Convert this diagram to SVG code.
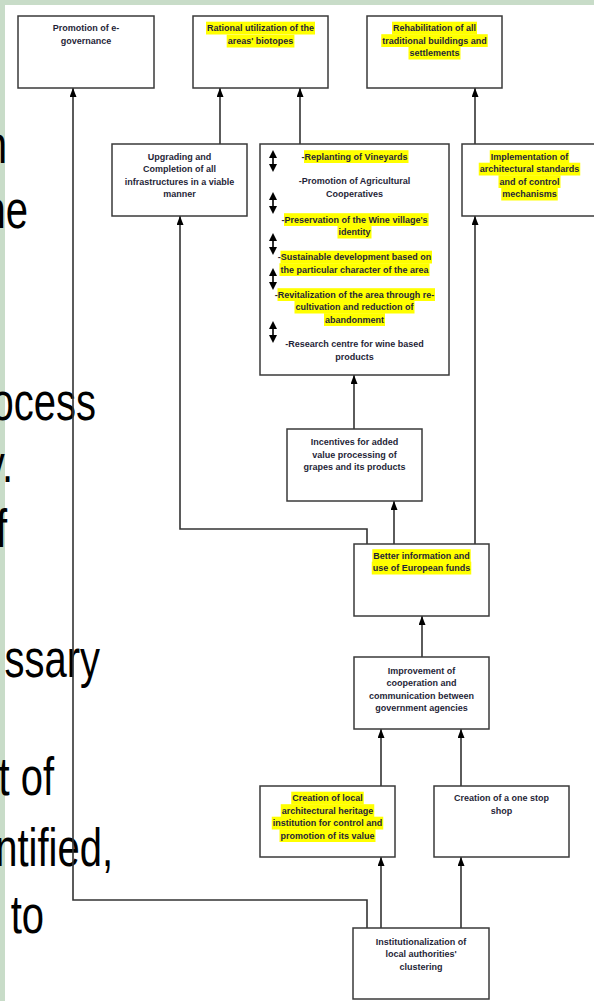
<svg xmlns="http://www.w3.org/2000/svg" xmlns:xlink="http://www.w3.org/1999/xlink" width="594" height="1001" viewBox="0 0 594 1001">
<style>
.box{fill:#fff;stroke:#3a3a3a;stroke-width:1.5}
.t{font-family:"Liberation Sans",Arial,sans-serif;font-weight:bold;font-size:9px;fill:#1f1f38;text-anchor:middle}
.hl{fill:#ffff00}
.bg{font-family:"Liberation Sans",Arial,sans-serif;font-size:40px;fill:#000;text-anchor:end}
.c{fill:none;stroke:#333;stroke-width:1.6;marker-end:url(#ah)}
</style>
<defs>
<marker id="ah" viewBox="0 0 9 7" refX="9" refY="3.5" markerWidth="9" markerHeight="7" markerUnits="userSpaceOnUse" orient="auto">
<path d="M0,0 L9,3.5 L0,7 z" fill="#000"/>
</marker>
<g id="dbl">
<path d="M0,5 V17" stroke="#000" stroke-width="1.6"/>
<path d="M-4,8 L0,0 L4,8 z M-4,14 L0,22 L4,14 z" fill="#000"/>
</g>
</defs>
<g id="background">
<rect x="0" y="0" width="594" height="1001" fill="#c8dcc8"/>
<rect x="5" y="5" width="589" height="996" fill="#fff"/>
</g>
<g id="slide-text">
<text class="bg" transform="translate(7,163) scale(1,1.35)">n</text>
<text class="bg" transform="translate(28,228) scale(1,1.35)">he</text>
<text class="bg" transform="translate(96,420) scale(1,1.35)">ocess</text>
<text class="bg" transform="translate(13,482) scale(1,1.35)">y.</text>
<text class="bg" transform="translate(7,547) scale(1,1.35)">f</text>
<text class="bg" transform="translate(100,677) scale(1,1.35)">ssary</text>
<text class="bg" transform="translate(54,795) scale(1,1.35)">t of</text>
<text class="bg" transform="translate(113,866) scale(1,1.35)">ntified,</text>
<text class="bg" transform="translate(44,933) scale(1,1.35)">to</text>
</g>
<g id="connectors">
<path class="c" d="M367,928 V900 H73 V88"/>
<path class="c" d="M381,928 V857"/>
<path class="c" d="M461,928 V857"/>
<path class="c" d="M381,786 V729"/>
<path class="c" d="M461,786 V729"/>
<path class="c" d="M422,657 V616"/>
<path class="c" d="M394,544 V501"/>
<path class="c" d="M367,544 V529 H180 V216"/>
<path class="c" d="M475,544 V216"/>
<path class="c" d="M354,429 V375"/>
<path class="c" d="M220,144 V88"/>
<path class="c" d="M300,144 V88"/>
<path class="c" d="M475,144 V88"/>
</g>
<g id="n-egov">
<rect class="box" x="18" y="16" width="136" height="72"/>
<text class="t" x="86" y="31">Promotion of e-</text>
<text class="t" x="86" y="44">governance</text>
</g>
<g id="n-biotopes">
<rect class="box" x="193" y="16" width="135" height="72"/>
<rect class="hl" x="206" y="21.7" width="109" height="12.8"/>
<rect class="hl" x="226.7" y="34.7" width="67.7" height="12.8"/>
<text class="t" x="260.5" y="31">Rational utilization of the</text>
<text class="t" x="260.5" y="44">areas' biotopes</text>
</g>
<g id="n-rehab">
<rect class="box" x="367" y="16" width="135" height="72"/>
<rect class="hl" x="392" y="21.7" width="85" height="12.8"/>
<rect class="hl" x="381.25" y="34.2" width="106.5" height="12.8"/>
<rect class="hl" x="408.5" y="46.7" width="52" height="12.8"/>
<text class="t" x="434.5" y="31">Rehabilitation of all</text>
<text class="t" x="434.5" y="43.5">traditional buildings and</text>
<text class="t" x="434.5" y="56">settlements</text>
</g>
<g id="n-infra">
<rect class="box" x="112" y="144" width="135" height="72"/>
<text class="t" x="179.5" y="159.5">Upgrading and</text>
<text class="t" x="179.5" y="172">Completion of all</text>
<text class="t" x="179.5" y="184.5">infrastructures in a viable</text>
<text class="t" x="179.5" y="197">manner</text>
</g>
<g id="n-wine">
<rect class="box" x="260" y="144" width="189" height="231"/>
<use xlink:href="#dbl" x="273" y="150"/>
<use xlink:href="#dbl" x="273" y="192"/>
<use xlink:href="#dbl" x="273" y="233"/>
<use xlink:href="#dbl" x="273" y="268"/>
<use xlink:href="#dbl" x="273" y="321"/>
<rect class="hl" x="304" y="150.2" width="104.5" height="12.8"/>
<rect class="hl" x="284" y="213.2" width="144.6" height="12.8"/>
<rect class="hl" x="337.5" y="225.7" width="34" height="12.8"/>
<rect class="hl" x="280.5" y="250.7" width="151.5" height="12.8"/>
<rect class="hl" x="279.45" y="263.2" width="150.1" height="12.8"/>
<rect class="hl" x="277.5" y="288.2" width="157.5" height="12.8"/>
<rect class="hl" x="294.5" y="300.7" width="120" height="12.8"/>
<rect class="hl" x="324" y="313.2" width="61" height="12.8"/>
<text class="t" x="354.5" y="159.5">-Replanting of Vineyards</text>
<text class="t" x="354.5" y="184">-Promotion of Agricultural</text>
<text class="t" x="354.5" y="196.5">Cooperatives</text>
<text class="t" x="354.5" y="222.5">-Preservation of the Wine village's</text>
<text class="t" x="354.5" y="235">identity</text>
<text class="t" x="354.5" y="260">-Sustainable development based on</text>
<text class="t" x="354.5" y="272.5">the particular character of the area</text>
<text class="t" x="354.5" y="297.5">-Revitalization of the area through re-</text>
<text class="t" x="354.5" y="310">cultivation and reduction of</text>
<text class="t" x="354.5" y="322.5">abandonment</text>
<text class="t" x="354.5" y="347">-Research centre for wine based</text>
<text class="t" x="354.5" y="360">products</text>
</g>
<g id="n-standards">
<rect class="box" x="462" y="144" width="135" height="72"/>
<rect class="hl" x="489.75" y="150.2" width="79.5" height="12.8"/>
<rect class="hl" x="478.75" y="162.7" width="101.5" height="12.8"/>
<rect class="hl" x="498.5" y="175.2" width="62" height="12.8"/>
<rect class="hl" x="501.25" y="187.7" width="56.5" height="12.8"/>
<text class="t" x="529.5" y="159.5">Implementation of</text>
<text class="t" x="529.5" y="172">architectural standards</text>
<text class="t" x="529.5" y="184.5">and of control</text>
<text class="t" x="529.5" y="197">mechanisms</text>
</g>
<g id="n-incentives">
<rect class="box" x="287" y="429" width="135" height="72"/>
<text class="t" x="354.5" y="445">Incentives for added</text>
<text class="t" x="354.5" y="457.5">value processing of</text>
<text class="t" x="354.5" y="470">grapes and its products</text>
</g>
<g id="n-funds">
<rect class="box" x="354" y="544" width="135" height="72"/>
<rect class="hl" x="372.3" y="549.2" width="98.4" height="12.8"/>
<rect class="hl" x="371.75" y="561.7" width="99.5" height="12.8"/>
<text class="t" x="421.5" y="558.5">Better information and</text>
<text class="t" x="421.5" y="571">use of European funds</text>
</g>
<g id="n-cooperation">
<rect class="box" x="354" y="657" width="135" height="72"/>
<text class="t" x="421.5" y="673.5">Improvement of</text>
<text class="t" x="421.5" y="686">cooperation and</text>
<text class="t" x="421.5" y="698.5">communication between</text>
<text class="t" x="421.5" y="711">government agencies</text>
</g>
<g id="n-heritage">
<rect class="box" x="260" y="786" width="135" height="71"/>
<rect class="hl" x="291.25" y="791.7" width="72.5" height="12.8"/>
<rect class="hl" x="280.75" y="804.2" width="93.5" height="12.8"/>
<rect class="hl" x="271.75" y="816.7" width="111.5" height="12.8"/>
<rect class="hl" x="279.5" y="829.2" width="96" height="12.8"/>
<text class="t" x="327.5" y="801">Creation of local</text>
<text class="t" x="327.5" y="813.5">architectural heritage</text>
<text class="t" x="327.5" y="826">institution for control and</text>
<text class="t" x="327.5" y="838.5">promotion of its value</text>
</g>
<g id="n-onestop">
<rect class="box" x="434" y="786" width="135" height="71"/>
<text class="t" x="501.5" y="801">Creation of a one stop</text>
<text class="t" x="501.5" y="813.5">shop</text>
</g>
<g id="n-clustering">
<rect class="box" x="353" y="928" width="136" height="71"/>
<text class="t" x="421" y="944.5">Institutionalization of</text>
<text class="t" x="421" y="957">local authorities'</text>
<text class="t" x="421" y="969.5">clustering</text>
</g>
</svg>
